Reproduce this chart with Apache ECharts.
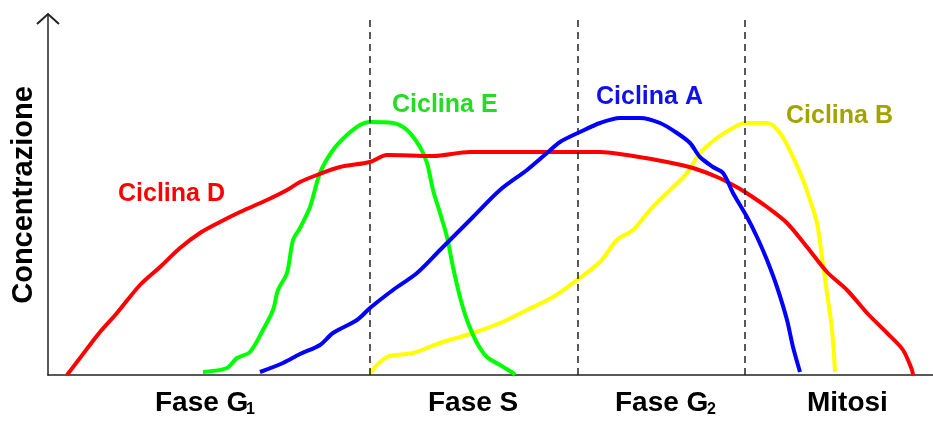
<!DOCTYPE html>
<html>
<head>
<meta charset="utf-8">
<script src="https://cdn.jsdelivr.net/npm/echarts@6/dist/echarts.min.js"></script>
<style>html,body{margin:0;padding:0;background:#fff}#c{width:933px;height:425px}</style>
</head>
<body>
<div id="c"></div>
<script>
// Time along the cell cycle (arbitrary units) and concentration (arbitrary units)
const phaseBounds = [322, 530, 697];
const phaseNames = ['Fase G', 'Fase S', 'Fase G', 'Mitosi'];
const seriesNames = ['Ciclina D', 'Ciclina E', 'Ciclina A', 'Ciclina B'];

const ciclinaD = [[19,0],[32,17],[52,43],[69,62],[92,90],[112,108],[132,127],[152,142],[172,153],[192,163],[219,175],[239,185],[252,193],[269,200],[292,208],[322,213],[339,220],[385,219],[422,223],[552,223],[585,219],[619,213],[645,207],[669,198],[685,190],[697,183],[719,168],[739,152],[759,128],[779,103],[799,85],[819,62],[839,42],[855,25],[864,5],[865,0]];
const ciclinaE = [[155,3],[179,7],[189,17],[202,23],[215,45],[225,65],[230,85],[239,102],[245,135],[252,147],[262,168],[272,202],[285,225],[299,240],[312,250],[322,253],[345,252],[359,245],[372,228],[379,212],[385,185],[392,162],[399,138],[405,108],[412,78],[419,55],[429,32],[439,18],[452,10],[465,2],[467,0]];
const ciclinaA = [[212,3],[235,12],[252,21],[272,30],[285,42],[309,55],[322,67],[345,85],[369,102],[392,125],[405,138],[425,158],[452,185],[479,205],[499,222],[512,233],[532,243],[552,252],[572,257],[592,257],[612,252],[629,242],[642,232],[652,218],[665,208],[675,202],[685,182],[699,158],[709,138],[719,115],[729,88],[739,55],[745,28],[752,3]];
const ciclinaB = [[322,2],[339,18],[365,22],[392,32],[425,42],[452,52],[479,65],[505,78],[529,95],[552,113],[569,135],[585,145],[602,165],[619,182],[639,202],[652,222],[669,237],[685,247],[697,252],[719,252],[732,242],[745,218],[755,195],[762,175],[769,152],[774,118],[779,82],[784,45],[787,3]];

const FONT = '"Liberation Sans", Arial, sans-serif';
const chart = echarts.init(document.getElementById('c'), null, {renderer: 'canvas'});

function line(name, data, color, z, extra) {
  return Object.assign({
    name, type: 'line', data, z,
    showSymbol: false, smooth: 0.3,
    lineStyle: {color, width: 4},
    itemStyle: {color},
    animation: false
  }, extra || {});
}

const option = {
  backgroundColor: '#fff',
  animation: false,
  grid: {left: 48, right: 0, top: 15, bottom: 50, containLabel: false, outerBoundsMode: 'none'},
  xAxis: {
    type: 'value', min: 0, max: 885,
    axisLine: {show: true, onZero: false, lineStyle: {color: '#222', width: 1.5}},
    axisTick: {show: false}, axisLabel: {show: false}, splitLine: {show: false}
  },
  yAxis: {
    type: 'value', min: 0, max: 360,
    name: 'Concentrazione', nameLocation: 'middle', nameGap: 10, nameRotate: 90,
    nameTextStyle: {fontFamily: FONT, fontWeight: 'bold', fontSize: 29, color: '#000'},
    axisLine: {show: true, lineStyle: {color: '#222', width: 1.5}},
    axisTick: {show: false}, axisLabel: {show: false}, splitLine: {show: false}
  },
  series: [
    line(seriesNames[3], ciclinaB, '#ffff00', 2, {
      markLine: {
        silent: true, symbol: 'none', label: {show: false},
        lineStyle: {color: '#222', type: [7, 5], width: 1.5},
        data: phaseBounds.map(v => ({xAxis: v}))
      }
    }),
    line(seriesNames[1], ciclinaE, '#00ff00', 3),
    line(seriesNames[0], ciclinaD, '#ff0000', 4),
    line(seriesNames[2], ciclinaA, '#0000ff', 5)
  ],
  graphic: [
    {type: 'polyline', shape: {points: [[37, 24], [48, 14], [59, 24]]}, style: {stroke: '#222', lineWidth: 2, fill: null}},
    // phase labels
    {type: 'text', left: 155, top: 389, style: {text: phaseNames[0], font: 'bold 28px ' + FONT, fill: '#000'}},
    {type: 'text', left: 246, top: 402, style: {text: '1', font: 'bold 16px ' + FONT, fill: '#000'}},
    {type: 'text', left: 428, top: 389, style: {text: phaseNames[1], font: 'bold 28px ' + FONT, fill: '#000'}},
    {type: 'text', left: 615, top: 389, style: {text: phaseNames[2], font: 'bold 28px ' + FONT, fill: '#000'}},
    {type: 'text', left: 707, top: 402, style: {text: '2', font: 'bold 16px ' + FONT, fill: '#000'}},
    {type: 'text', left: 807, top: 389, style: {text: phaseNames[3], font: 'bold 28px ' + FONT, fill: '#000'}},
    // curve labels
    {type: 'text', left: 118, top: 182, style: {text: seriesNames[0], font: 'bold 25px ' + FONT, fill: '#ff0000'}},
    {type: 'text', left: 392, top: 93, style: {text: seriesNames[1], font: 'bold 25px ' + FONT, fill: '#22dd22'}},
    {type: 'text', left: 596, top: 85, style: {text: seriesNames[2], font: 'bold 25px ' + FONT, fill: '#1010ee'}},
    {type: 'text', left: 786, top: 104, style: {text: seriesNames[3], font: 'bold 25px ' + FONT, fill: '#a3a300'}}
  ]
};
chart.setOption(option);
</script>
</body>
</html>
